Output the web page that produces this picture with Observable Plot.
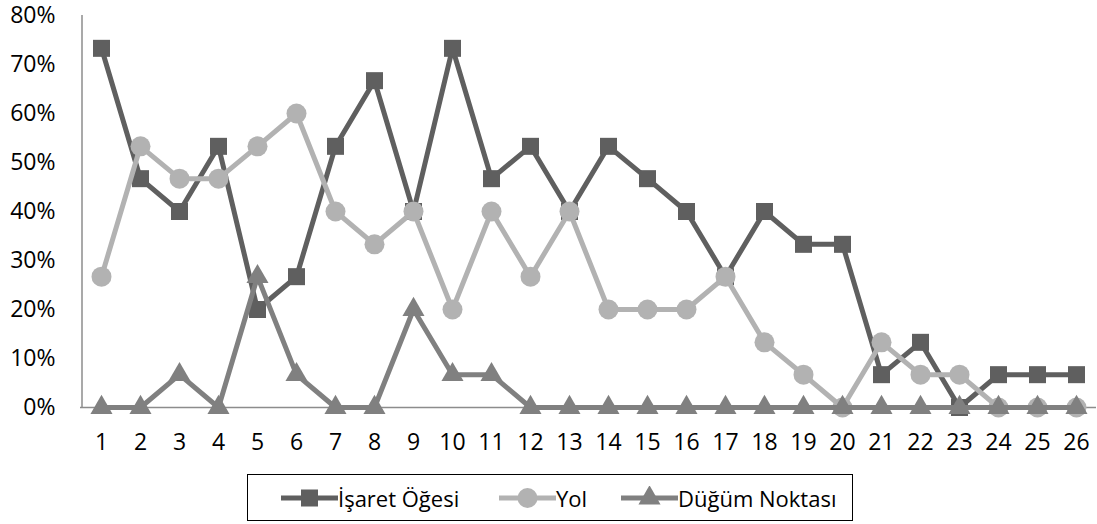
<!DOCTYPE html>
<html><head><meta charset="utf-8">
<script src="https://cdn.jsdelivr.net/npm/d3@7"></script>
<script src="https://cdn.jsdelivr.net/npm/@observablehq/plot@0.6"></script>
<style>
body{margin:0;background:#fff;font-family:"Open Sans",sans-serif;}
#legend{position:absolute;left:247px;top:474px;width:604px;height:45px;border:1.5px solid #000;font-size:22px;color:#000;}
.item{position:absolute;top:0;height:45px;display:flex;align-items:center;}
.item svg{display:block;}
</style></head><body>
<div id="chart"></div>
<div id="legend"></div>
<script>
const categories = d3.range(1, 27);
const seriesNames = ["İşaret Öğesi", "Yol", "Düğüm Noktası"];
const isaret = [73.3,46.7,40,53.3,20,26.7,53.3,66.7,40,73.3,46.7,53.3,40,53.3,46.7,40,26.7,40,33.3,33.3,6.7,13.3,0,6.7,6.7,6.7];
const yol = [26.7,53.3,46.7,46.7,53.3,60,40,33.3,40,20,40,26.7,40,20,20,20,26.7,13.3,6.7,0,13.3,6.7,6.7,0,0,0];
const dugum = [0,0,6.7,0,26.7,6.7,0,0,20,6.7,6.7,0,0,0,0,0,0,0,0,0,0,0,0,0,0,0];
const yTicks = [0,10,20,30,40,50,60,70,80];

const colors = ["#5f5f5f", "#b2b2b2", "#808080"];
const symbols = ["square", "circle", "triangle"];
const sizes = [9.6, 10, 8.2];
const allSeries = [isaret, yol, dugum];
const legendLeft = [33, 251, 373];

const marks = [
  Plot.ruleY([0], {stroke: "#8c8c8c", strokeWidth: 1.5}),
  Plot.ruleX([1], {stroke: "#8c8c8c", strokeWidth: 1.5, dx: -19.5, y1: 0, y2: 80})
];
allSeries.forEach((vals, i) => {
  const data = categories.map((c, j) => ({x: c, y: vals[j]}));
  marks.push(Plot.lineY(data, {x: "x", y: "y", stroke: colors[i], strokeWidth: 5}));
  marks.push(Plot.dot(data, {x: "x", y: "y", symbol: () => symbols[i], fill: colors[i], r: sizes[i]}));
});

const chart = Plot.plot({
  width: 1097, height: 465,
  marginLeft: 80, marginRight: 1, marginTop: 15, marginBottom: 58,
  style: {fontFamily: "'Open Sans', sans-serif", fontSize: "23px", color: "#000", background: "#fff", overflow: "visible"},
  x: {type: "point", domain: categories, padding: 0.5, label: null, tickSize: 0, tickPadding: 26},
  y: {domain: [0, 80], ticks: yTicks, tickFormat: d => d + "%", label: null, tickSize: 0, tickPadding: 25},
  symbol: {type: "identity"},
  marks
});
document.getElementById("chart").appendChild(chart);

const legend = document.getElementById("legend");
seriesNames.forEach((name, i) => {
  const item = document.createElement("div");
  item.className = "item";
  item.style.left = legendLeft[i] + "px";
  const sym = d3.symbol(i === 0 ? d3.symbolSquare : i === 1 ? d3.symbolCircle : d3.symbolTriangle, Math.PI * sizes[i] * sizes[i])();
  item.innerHTML = `<svg width="57" height="24"><line x1="0" x2="57" y1="12" y2="12" stroke="${colors[i]}" stroke-width="5" stroke-linecap="round"/><path d="${sym}" transform="translate(28.5,12)" fill="${colors[i]}"/></svg><span>${name}</span>`;
  legend.appendChild(item);
});
</script>
</body></html>
